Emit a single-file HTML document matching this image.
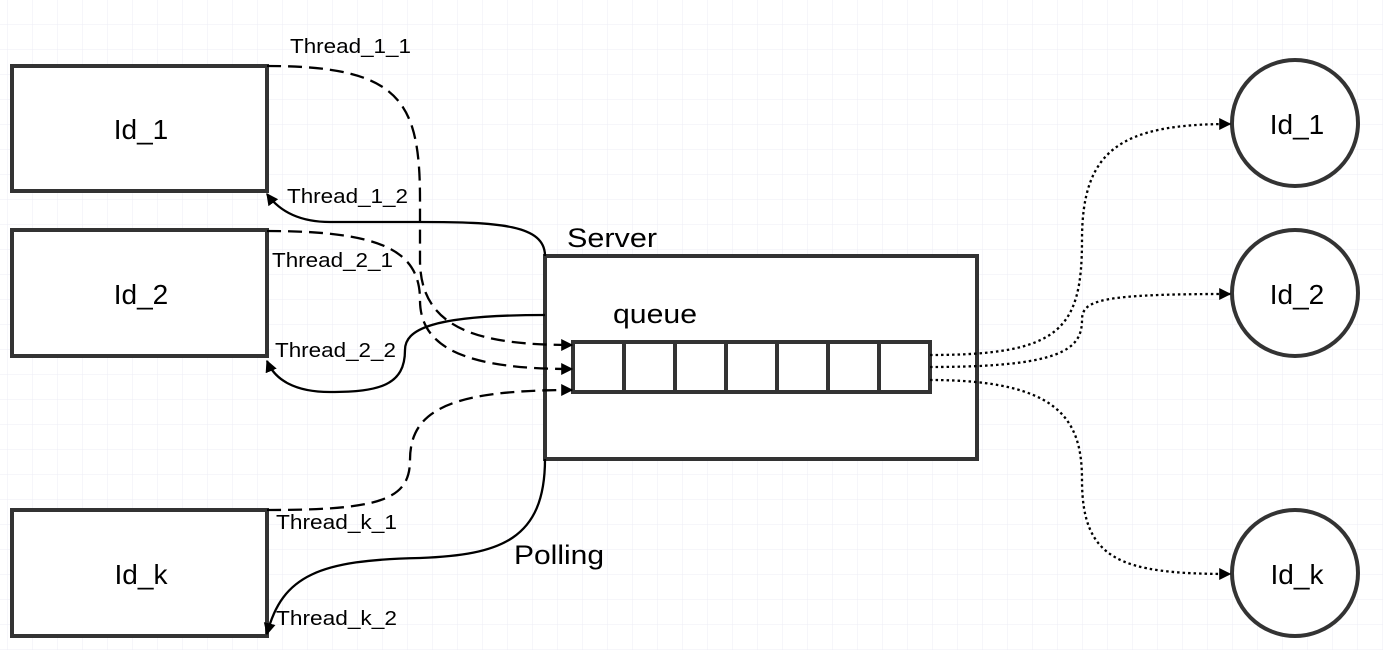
<!DOCTYPE html>
<html><head><meta charset="utf-8"><style>
html,body{margin:0;padding:0;background:#fff;}
svg{display:block;font-family:"Liberation Sans",sans-serif;}
</style></head><body>
<svg width="1383" height="650" xmlns="http://www.w3.org/2000/svg">
<defs>
<pattern id="g" x="7" y="-1" width="25" height="25" patternUnits="userSpaceOnUse">
<path d="M0 0H25M0 0V25" stroke="#ececf6" stroke-width="1" fill="none"/>
</pattern>
<marker id="a" viewBox="0 0 10 10" refX="9" refY="5" markerWidth="12" markerHeight="13" markerUnits="userSpaceOnUse" orient="auto">
<path d="M0 0L10 5L0 10z" fill="#000"/>
</marker>
</defs>
<rect width="1383" height="650" fill="url(#g)"/>
<g fill="#fff" stroke="#333" stroke-width="4">
<rect x="12" y="66" width="255" height="125"/>
<rect x="12" y="230" width="255" height="126"/>
<rect x="12" y="510" width="255" height="126"/>
<rect x="545" y="256" width="432" height="203"/>
<rect x="573" y="342" width="357" height="50"/>
<path d="M624 342V392M675 342V392M726 342V392M777 342V392M828 342V392M879 342V392"/>
<circle cx="1295" cy="123" r="63"/>
<circle cx="1295" cy="293" r="63"/>
<circle cx="1295" cy="573" r="63"/>
</g>
<g fill="none" stroke="#000" stroke-width="2.3">
<path stroke-dasharray="14 7" marker-end="url(#a)" d="M267 66C400 66 420 100 420 200L420 260C420 330 480 345 572 345"/>
<path marker-end="url(#a)" d="M545 256C545 225 500 222 420 222L330 222C300 222 280 212 267 194"/>
<path stroke-dasharray="14 7" marker-end="url(#a)" d="M267 231C380 231 420 250 420 300C420 350 470 369 572 369"/>
<path marker-end="url(#a)" d="M545 315C430 315 405 330 405 350C405 385 380 392 330 392C295 392 275 380 267 361"/>
<path stroke-dasharray="14 7" marker-end="url(#a)" d="M267 510C380 510 410 500 410 460C410 410 450 390 572 390"/>
<path marker-end="url(#a)" d="M545 459C545 540 500 555 420 558C320 560 282 575 267 634"/>
<g stroke-dasharray="2.5 3">
<path marker-end="url(#a)" d="M930 355C1060 355 1082 330 1082 240C1082 150 1120 124 1230 124"/>
<path marker-end="url(#a)" d="M930 367C1060 367 1082 350 1082 320C1082 300 1100 294 1230 294"/>
<path marker-end="url(#a)" d="M930 380C1060 380 1082 420 1082 480C1082 560 1120 574 1230 574"/>
</g>
</g>
<g font-size="20" fill="#000">
<text x="290" y="53" textLength="121" lengthAdjust="spacingAndGlyphs">Thread_1_1</text>
<text x="287" y="203" textLength="121" lengthAdjust="spacingAndGlyphs">Thread_1_2</text>
<text x="272" y="267" textLength="121" lengthAdjust="spacingAndGlyphs">Thread_2_1</text>
<text x="275" y="357" textLength="121" lengthAdjust="spacingAndGlyphs">Thread_2_2</text>
<text x="276" y="529" textLength="121" lengthAdjust="spacingAndGlyphs">Thread_k_1</text>
<text x="276" y="625" textLength="121" lengthAdjust="spacingAndGlyphs">Thread_k_2</text>
</g>
<g font-size="27" fill="#000">
<text x="567" y="247" textLength="90" lengthAdjust="spacingAndGlyphs">Server</text>
<text x="613" y="323" textLength="84" lengthAdjust="spacingAndGlyphs">queue</text>
<text x="514" y="564" textLength="90" lengthAdjust="spacingAndGlyphs">Polling</text>
</g>
<g font-size="28" fill="#000" text-anchor="middle">
<text x="141" y="139">Id_1</text>
<text x="141" y="304">Id_2</text>
<text x="141" y="584">Id_k</text>
<text x="1297" y="134">Id_1</text>
<text x="1297" y="304">Id_2</text>
<text x="1297" y="584">Id_k</text>
</g>
</svg>
</body></html>
